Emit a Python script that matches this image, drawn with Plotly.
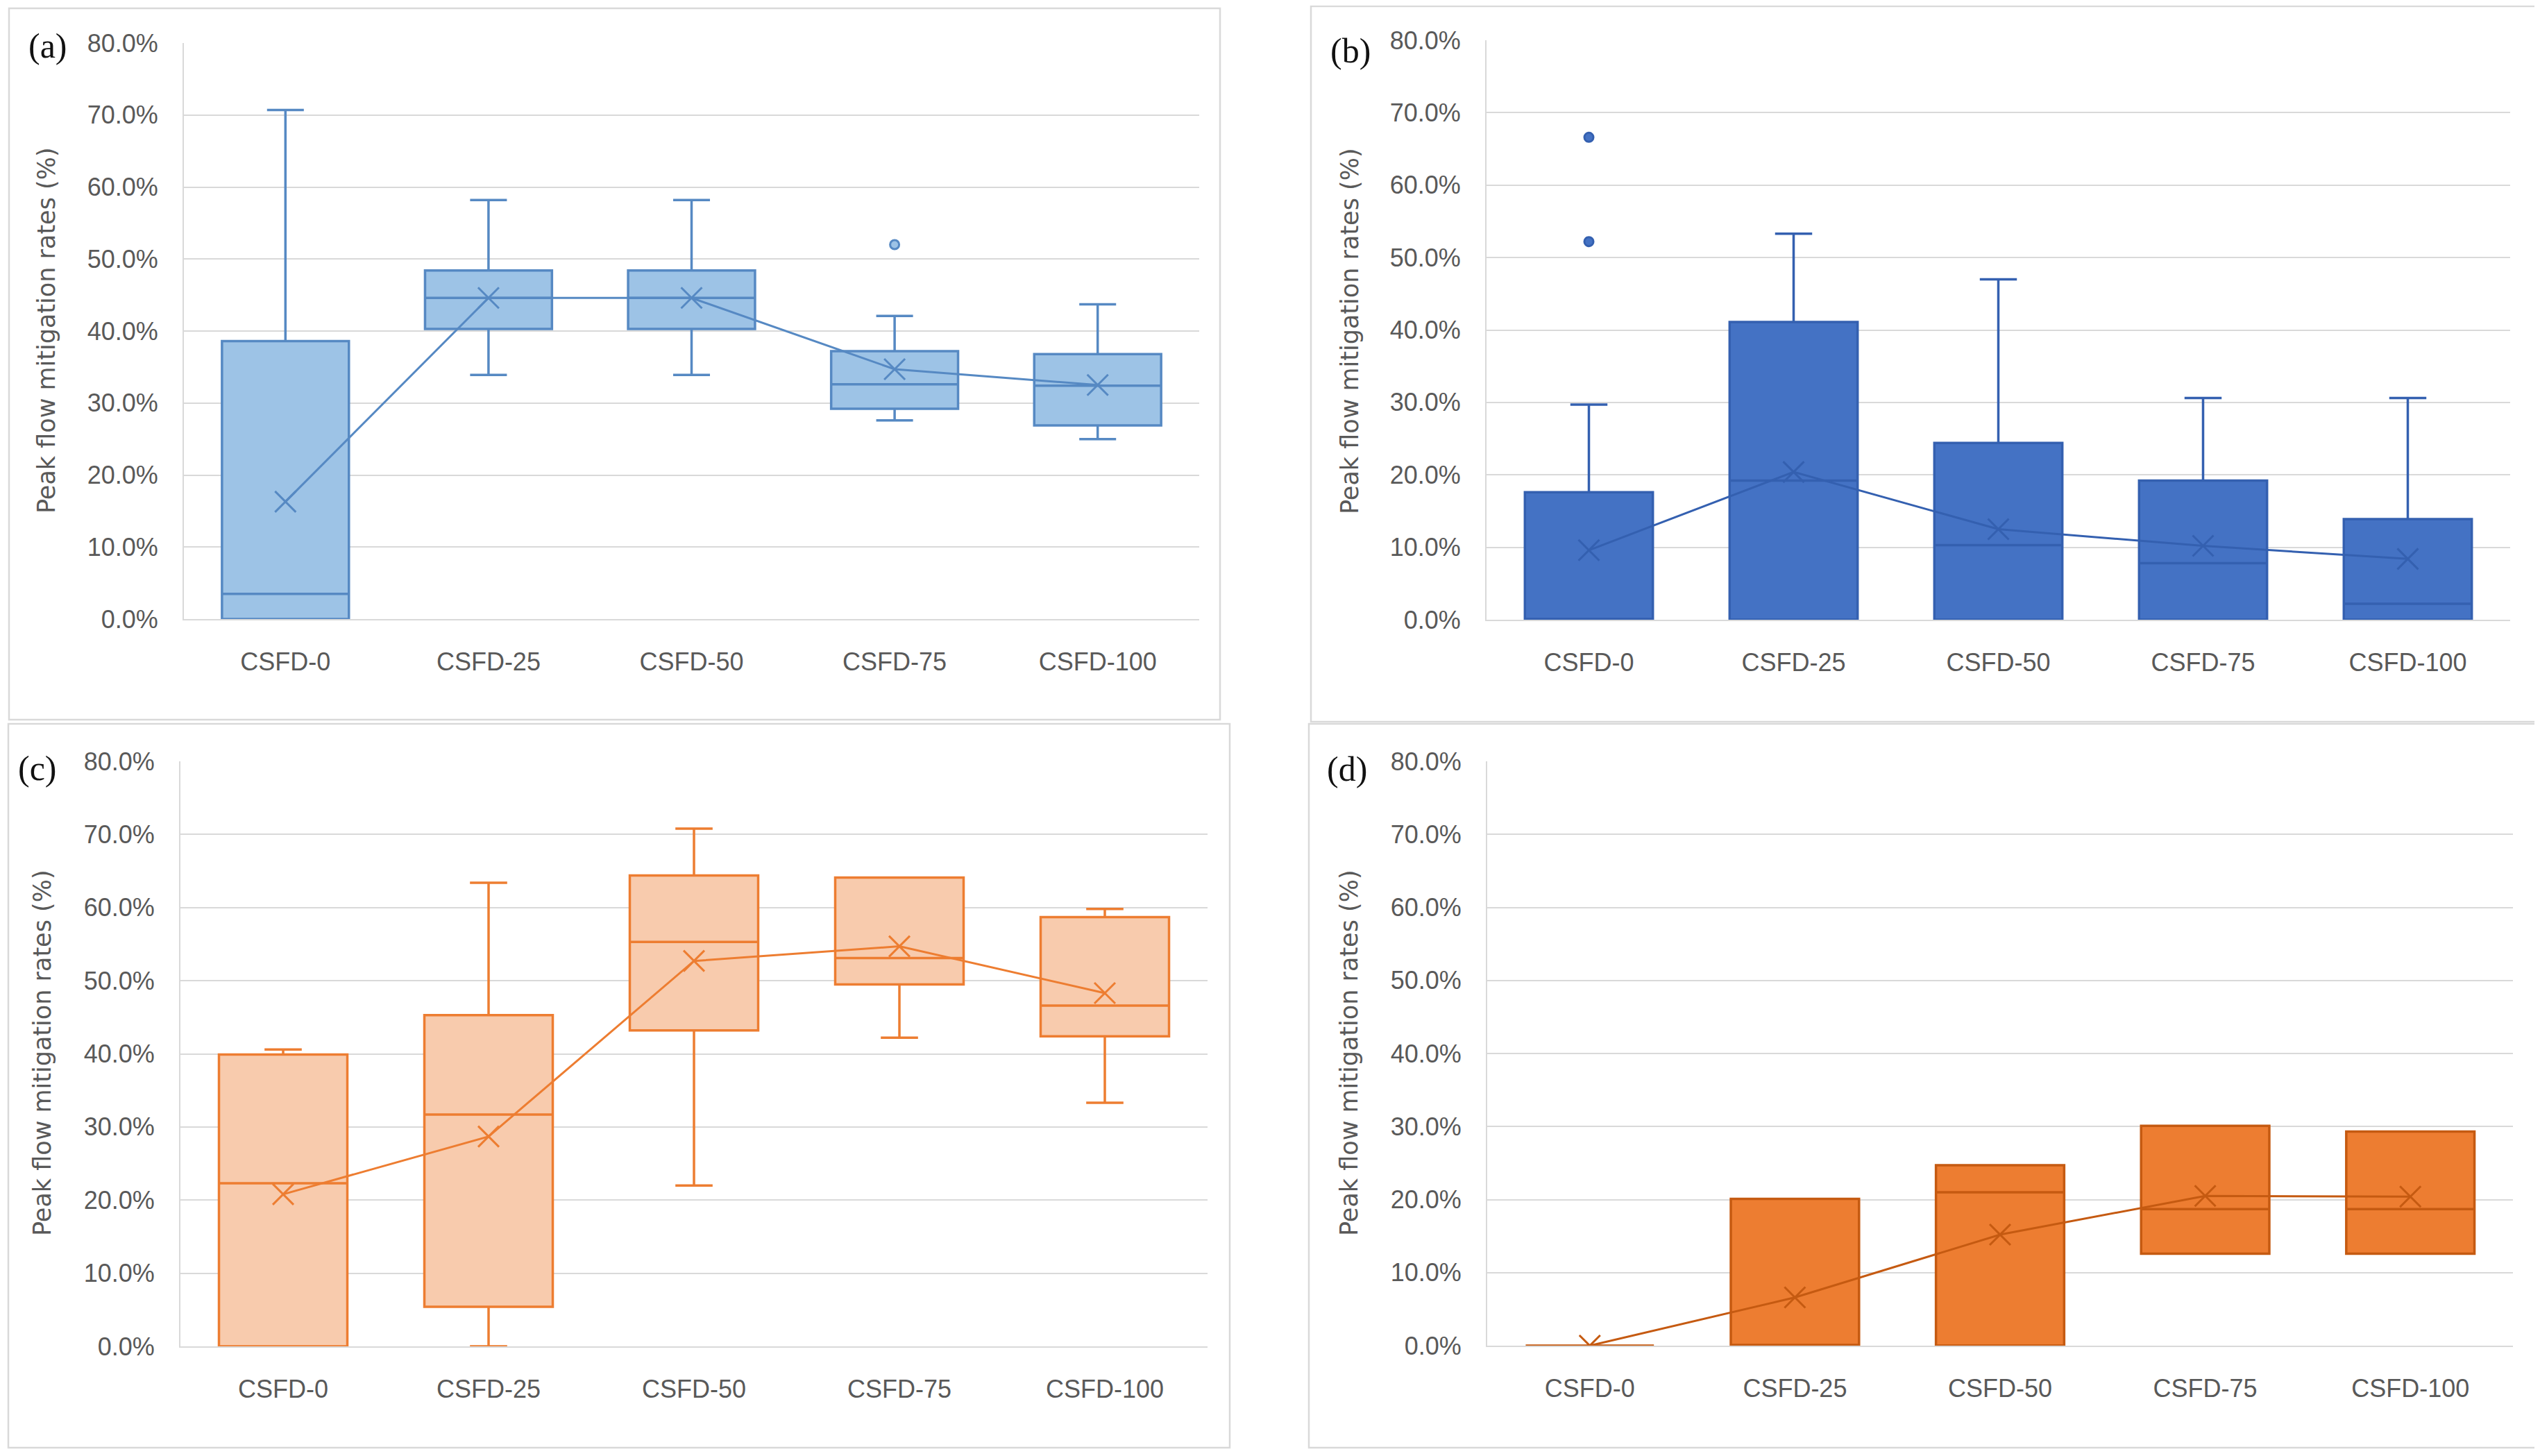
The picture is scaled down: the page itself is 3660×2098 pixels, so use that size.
import plotly.graph_objects as go

# page body has an 8px margin: the figure is shifted by it, so positions are offset
OFF = 8
W, H = 3660 - OFF, 2098 - OFF

categories = ["CSFD-0", "CSFD-25", "CSFD-50", "CSFD-75", "CSFD-100"]
y_tick_vals = [0, 10, 20, 30, 40, 50, 60, 70, 80]
y_title = "Peak flow mitigation rates (%)"
panel_labels = ["(a)", "(b)", "(c)", "(d)"]

# ---- panel (a) ----
a_q1 = [0.0, 40.3, 40.3, 29.2, 26.9]
a_median = [3.5, 44.6, 44.6, 32.6, 32.4]
a_q3 = [38.6, 48.4, 48.4, 37.2, 36.8]
a_low = [0.0, 33.9, 33.9, 27.6, 25.0]
a_high = [70.7, 58.2, 58.2, 42.1, 43.7]
a_mean = [16.3, 44.6, 44.6, 34.7, 32.5]
a_out_x = ["CSFD-75"]
a_out_y = [52.0]

# ---- panel (b) ----
b_q1 = [0.0, 0.0, 0.0, 0.0, 0.0]
b_median = [0.0, 19.2, 10.3, 7.8, 2.2]
b_q3 = [17.6, 41.1, 24.4, 19.2, 13.9]
b_low = [0.0, 0.0, 0.0, 0.0, 0.0]
b_high = [29.7, 53.3, 47.0, 30.6, 30.6]
b_mean = [9.6, 20.4, 12.5, 10.2, 8.4]
b_out_x = ["CSFD-0", "CSFD-0"]
b_out_y = [66.6, 52.2]

# ---- panel (c) ----
c_q1 = [0.0, 5.4, 43.2, 49.5, 42.4]
c_median = [22.3, 31.7, 55.3, 53.1, 46.6]
c_q3 = [39.9, 45.3, 64.4, 64.1, 58.7]
c_low = [0.0, 0.0, 22.0, 42.2, 33.3]
c_high = [40.6, 63.4, 70.8, 64.1, 59.8]
c_mean = [20.8, 28.7, 52.7, 54.7, 48.3]
c_out_x = []
c_out_y = []

# ---- panel (d) ----
d_q1 = [0.0, 0.0, 0.0, 12.6, 12.6]
d_median = [0.0, 0.0, 21.0, 18.7, 18.7]
d_q3 = [0.0, 20.1, 24.7, 30.1, 29.3]
d_low = [0.0, 0.0, 0.0, 12.6, 12.6]
d_high = [0.0, 20.1, 24.7, 30.1, 29.3]
d_mean = [0.0, 6.6, 15.2, 20.5, 20.4]
d_out_x = []
d_out_y = []

panels = [
    dict(q1=a_q1, med=a_median, q3=a_q3, lo=a_low, hi=a_high, mean=a_mean,
         ox=a_out_x, oy=a_out_y, fill="#9DC3E6", line="#5689C3",
         plot=(265, 1728, 62, 892), frame=(13, 1758, 12, 1037),
         label=(69, 66), title=(67, 476)),
    dict(q1=b_q1, med=b_median, q3=b_q3, lo=b_low, hi=b_high, mean=b_mean,
         ox=b_out_x, oy=b_out_y, fill="#4472C4", line="#3460B0",
         plot=(2142, 3617, 58, 893), frame=(1889, 3654, 9, 1040),
         label=(1946, 73), title=(1945, 477)),
    dict(q1=c_q1, med=c_median, q3=c_q3, lo=c_low, hi=c_high, mean=c_mean,
         ox=c_out_x, oy=c_out_y, fill="#F8CBAD", line="#ED7D31",
         plot=(260, 1740, 1097, 1940), frame=(4 + OFF, 1772, 1043, 2086),
         label=(54, 1107), title=(61, 1517)),
    dict(q1=d_q1, med=d_median, q3=d_q3, lo=d_low, hi=d_high, mean=d_mean,
         ox=d_out_x, oy=d_out_y, fill="#ED7D31", line="#C55A11",
         plot=(2143, 3621, 1097, 1939), frame=(1886, 3654, 1043, 2086),
         label=(1941, 1108), title=(1944, 1517)),
]

def px_x(v):
    return (v - OFF) / W

def px_y(v):
    return 1 - (v - OFF) / H

fig = go.Figure()
layout = dict(
    width=W, height=H, margin=dict(l=0, r=0, t=0, b=0, pad=0, autoexpand=False),
    paper_bgcolor="white", plot_bgcolor="white", showlegend=False,
    boxmode="overlay",
)
shapes = []
annotations = []
tick_font = dict(family="Liberation Sans, Arial, sans-serif", size=36, color="#595959")
grid = "#D9D9D9"

for i, p in enumerate(panels):
    n = "" if i == 0 else str(i + 1)
    xa, ya = "x" + n, "y" + n
    x0, x1, y0, y1 = p["plot"]
    layout["xaxis" + n] = dict(
        domain=[px_x(x0), px_x(x1)], anchor=ya, type="category",
        categoryorder="array", categoryarray=categories, range=[-0.5, 4.5],
        showgrid=False, showline=True, linecolor=grid, linewidth=2,
        ticks="", tickfont=tick_font, ticklabelstandoff=29, fixedrange=True,
        automargin=False,
    )
    layout["yaxis" + n] = dict(
        domain=[px_y(y1), px_y(y0)], anchor=xa, range=[0, 80],
        tickvals=y_tick_vals, ticktext=[f"{v:.1f}%" for v in y_tick_vals],
        showgrid=True, gridcolor=grid, gridwidth=2, zeroline=False,
        showline=True, linecolor=grid, linewidth=2,
        ticks="", tickfont=tick_font, ticklabelstandoff=28, fixedrange=True,
        automargin=False,
    )
    fig.add_trace(go.Box(
        x=categories, q1=p["q1"], median=p["med"], q3=p["q3"],
        lowerfence=p["lo"], upperfence=p["hi"],
        width=0.625, whiskerwidth=0.29, boxpoints=False,
        fillcolor=p["fill"], line=dict(color=p["line"], width=3.5),
        xaxis=xa, yaxis=ya, hoverinfo="skip",
    ))
    if p["ox"]:
        fig.add_trace(go.Scatter(
            x=p["ox"], y=p["oy"], mode="markers",
            marker=dict(symbol="circle", size=13, color=p["fill"],
                        line=dict(color=p["line"], width=3)),
            xaxis=xa, yaxis=ya, hoverinfo="skip",
        ))
    fig.add_trace(go.Scatter(
        x=categories, y=p["mean"], mode="lines+markers",
        line=dict(color=p["line"], width=3),
        marker=dict(symbol="x-thin", size=30, color=p["line"],
                    line=dict(color=p["line"], width=3)),
        xaxis=xa, yaxis=ya, hoverinfo="skip",
    ))
    fx0, fx1, fy0, fy1 = p["frame"]
    shapes.append(dict(type="rect", xref="paper", yref="paper",
                       x0=px_x(fx0), x1=px_x(fx1), y0=px_y(fy1), y1=px_y(fy0),
                       line=dict(color="#D9D9D9", width=2.5), layer="below"))
    lx, ly = p["label"]
    annotations.append(dict(text=panel_labels[i], xref="paper", yref="paper",
                            x=px_x(lx), y=px_y(ly), xanchor="center", yanchor="middle",
                            showarrow=False,
                            font=dict(family="Liberation Serif, Times New Roman, serif",
                                      size=50, color="#111111")))
    tx, ty = p["title"]
    annotations.append(dict(text=y_title, xref="paper", yref="paper",
                            x=px_x(tx), y=px_y(ty), xanchor="center", yanchor="middle",
                            textangle=-90, showarrow=False,
                            font=dict(family="DejaVu Sans, sans-serif", size=35,
                                      color="#595959")))

layout["shapes"] = shapes
layout["annotations"] = annotations
fig.update_layout(**layout)
fig.write_html("out.html")
